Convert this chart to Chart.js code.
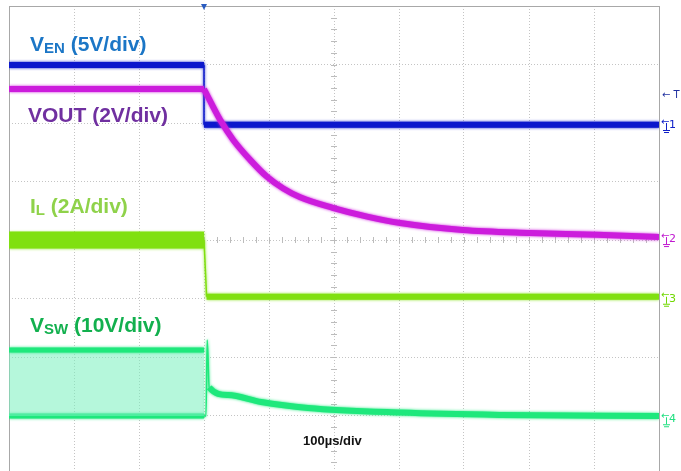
<!DOCTYPE html>
<html lang="en">
<head>
  <meta charset="UTF-8" />
  <title>Scope capture</title>
  <script src="https://cdn.jsdelivr.net/npm/chart.js"></script>
  <style>
    * { margin: 0; padding: 0; box-sizing: border-box; }
    body { background: #fff; overflow: hidden; }
    .wrap { position: relative; width: 681px; height: 490px; }
  </style>
</head>
<body>
  <div class="wrap"><canvas id="scope"></canvas></div>

  <script>
    // time in µs (100 µs/div, trigger at 0), level in screen divisions (0 = centre line)
    const venTime = [-300, 0, 0, 700];
    const venLevel = [2.99, 2.99, 1.97, 1.97];

    const voutFlatTime = [-300, 0];
    const voutFlatLevel = [2.58, 2.58];
    const voutTime = [0, 25, 45, 71, 97, 122, 148, 198, 251, 302, 398, 502, 605, 700];
    const voutLevel = [2.58, 2.05, 1.71, 1.37, 1.08, 0.88, 0.73, 0.55, 0.40, 0.29, 0.17, 0.12, 0.09, 0.05];

    const ilTime = [-300, 0, 4, 700];
    const ilLevel = [0, 0, -0.97, -0.97];

    const vswBandTime = [-300, 0];
    const vswHigh = [-1.88, -1.88];
    const vswLow = [-3.01, -3.01];
    const vswTime = [0, 3, 5, 8, 37, 88, 160, 302, 455, 700];
    const vswLevel = [-3.01, -3.01, -1.71, -2.52, -2.65, -2.77, -2.87, -2.95, -2.99, -3.01];

    const channelMarks = [
      { text: '1', level: 2.0, color: '#1020c8' },
      { text: '2', level: 0.05, color: '#c018d0' },
      { text: '3', level: -0.97, color: '#70d800' },
      { text: '4', level: -3.03, color: '#20e080' }
    ];

    const pts = (t, v) => t.map((x, i) => ({ x: x, y: v[i] }));
    // thin line where the trace jumps (vertical edges)
    const edge = w => ({ borderWidth: c => Math.abs(c.p1.parsed.x - c.p0.parsed.x) < 4 ? 1.5 : w });

    const decor = {
      id: 'decor',
      beforeDatasetsDraw(chart) {
        const { ctx, chartArea: a, scales } = chart;
        const cx = scales.x.getPixelForValue(200);
        const cy = scales.y.getPixelForValue(0);
        ctx.save();
        ctx.strokeStyle = '#bcbcbc';
        ctx.lineWidth = 1;
        ctx.beginPath();
        const dx = (a.right - a.left) / 50;
        for (let i = 1; i < 50; i++) {
          const x = Math.round(a.left + i * dx) + 0.5;
          ctx.moveTo(x, cy - 3); ctx.lineTo(x, cy + 3);
        }
        const dy = (a.bottom - a.top) / 40;
        for (let i = 1; i < 40; i++) {
          const y = Math.round(a.top + i * dy) + 0.5;
          ctx.moveTo(cx - 3, y); ctx.lineTo(cx + 3, y);
        }
        ctx.stroke();
        ctx.strokeStyle = '#a8a8a8';
        ctx.strokeRect(a.left + 0.5, a.top + 0.5, a.right - a.left, a.bottom - a.top);
        ctx.restore();
      },
      // soft edge on every trace, like the noise on the scope
      beforeDatasetDraw(chart, args) {
        const ds = chart.data.datasets[args.index];
        chart.ctx.save();
        chart.ctx.shadowColor = ds.borderColor;
        chart.ctx.shadowBlur = 3;
      },
      afterDatasetDraw(chart) {
        chart.ctx.restore();
      },
      afterDatasetsDraw(chart) {
        const { ctx, chartArea: a, scales } = chart;
        ctx.save();
        const label = (x, y, parts, color) => {
          ctx.fillStyle = color;
          let px = x;
          parts.forEach(([t, sub]) => {
            ctx.font = sub ? 'bold 15px "Liberation Sans", Arial' : 'bold 21px "Liberation Sans", Arial';
            ctx.fillText(t, px, sub ? y + 2 : y);
            px += ctx.measureText(t).width;
          });
        };
        ctx.textBaseline = 'alphabetic';
        label(30, 51, [['V'], ['EN', 1], [' (5V/div)']], '#1b76c6');
        label(28, 122, [['VOUT (2V/div)']], '#7030a0');
        label(30, 213, [['I'], ['L', 1], [' (2A/div)']], '#8fd24a');
        label(30, 332, [['V'], ['SW', 1], [' (10V/div)']], '#12b04e');

        ctx.fillStyle = '#111';
        ctx.font = 'bold 13px "Liberation Sans", Arial';
        ctx.fillText('100µs/div', 303, 445);

        // trigger position and level
        const tx = scales.x.getPixelForValue(0);
        ctx.fillStyle = '#2a5cc0';
        ctx.beginPath();
        ctx.moveTo(tx - 3, a.top - 2); ctx.lineTo(tx + 3, a.top - 2); ctx.lineTo(tx, a.top + 4);
        ctx.fill();
        ctx.font = '10px "DejaVu Sans"';
        ctx.textBaseline = 'middle';
        ctx.fillStyle = '#2030a0';
        ctx.fillText('← T', a.right + 3, 95);

        channelMarks.forEach(m => {
          const y = scales.y.getPixelForValue(m.level);
          ctx.fillStyle = m.color;
          ctx.strokeStyle = m.color;
          ctx.font = '10px "DejaVu Sans"';
          ctx.fillText('←', a.right + 2, y - 1);
          ctx.font = '11px "DejaVu Sans"';
          ctx.fillText(m.text, a.right + 10, y + 2);
          ctx.beginPath();
          ctx.moveTo(a.right + 7.5, y); ctx.lineTo(a.right + 7.5, y + 7);
          ctx.moveTo(a.right + 4, y + 7.5); ctx.lineTo(a.right + 11, y + 7.5);
          ctx.moveTo(a.right + 5, y + 9.5); ctx.lineTo(a.right + 10, y + 9.5);
          ctx.stroke();
        });
        ctx.restore();
      }
    };

    new Chart(document.getElementById('scope'), {
      type: 'line',
      data: {
        datasets: [
          { label: 'VOUT', data: pts(voutTime, voutLevel), borderColor: '#cc1cdc', borderWidth: 6, cubicInterpolationMode: 'monotone' },
          { label: 'VOUT before', data: pts(voutFlatTime, voutFlatLevel), borderColor: '#cc1cdc', borderWidth: 6 },
          { label: 'VEN', data: pts(venTime, venLevel), borderColor: '#0c18cc', borderWidth: 6, segment: edge(6) },
          { label: 'IL', data: pts(ilTime, ilLevel), borderColor: '#80e010', borderWidth: 6, segment: { borderWidth: c => c.p0.parsed.x < -1 ? 17 : (c.p0.parsed.x < 1 ? 1.5 : 6) } },
          { label: 'VSW', data: pts(vswTime, vswLevel), borderColor: '#1ee87c', borderWidth: 6, cubicInterpolationMode: 'monotone', segment: edge(6) },
          { label: 'VSW high', data: pts(vswBandTime, vswHigh), borderColor: '#1ee87c', borderWidth: 5, fill: '+1', backgroundColor: 'rgba(120, 240, 190, 0.55)' },
          { label: 'VSW low', data: pts(vswBandTime, vswLow), borderColor: '#1ee87c', borderWidth: 5 }
        ]
      },
      options: {
        responsive: true,
        maintainAspectRatio: false,
        animation: false,
        layout: { padding: { left: 9, right: 22, top: 6, bottom: 16 } },
        elements: { point: { radius: 0 }, line: { tension: 0, borderCapStyle: 'butt' } },
        plugins: { legend: { display: false }, tooltip: { enabled: false } },
        scales: {
          x: {
            type: 'linear', min: -300, max: 700,
            ticks: { display: false, stepSize: 100 },
            grid: { color: '#c4c4c4', drawTicks: false },
            border: { display: false, dash: [1, 2] }
          },
          y: {
            type: 'linear', min: -4, max: 4,
            ticks: { display: false, stepSize: 1 },
            grid: { color: '#c4c4c4', drawTicks: false },
            border: { display: false, dash: [1, 2] }
          }
        }
      },
      plugins: [decor]
    });
  </script>
</body>
</html>
